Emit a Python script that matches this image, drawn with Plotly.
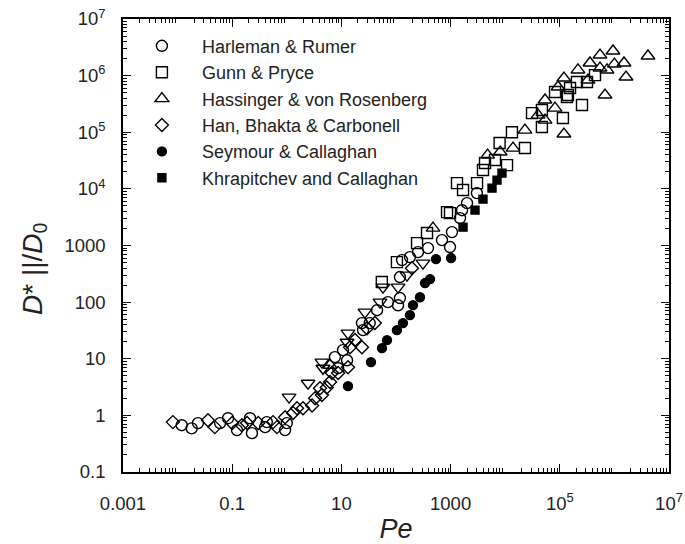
import plotly.graph_objects as go

# ---- data ----
harl_pe = [0.0119, 0.0181, 0.0236, 0.060, 0.084, 0.122, 0.212, 0.23, 0.40, 0.43, 0.93, 1.0,
           7.6, 8.7, 12.7, 10.7, 23.8, 24.9, 33, 45, 71, 109, 118, 118, 129, 180, 253, 385,
           695, 975, 1060, 1490, 1620, 2000, 3030]
harl_d = [0.67, 0.59, 0.73, 0.73, 0.89, 0.55, 0.89, 0.485, 0.62, 0.76, 0.55, 0.73,
          10.7, 6.8, 9.4, 14.2, 42.6, 32, 42.6, 72, 100, 88, 118, 277, 552, 624, 764, 900,
          1245, 940, 1725, 3050, 4200, 5600, 8430]

gunn_pe = [55, 104, 243, 370, 860, 975, 1310, 1690, 3050, 3920, 4270, 6500, 7900, 10800, 13300,
           23000, 31000, 47000, 47000, 81700, 114000, 135000, 141000, 154000, 206000, 255000,
           315000, 441000]
gunn_d = [226, 509, 1100, 1660, 3890, 3730, 12650, 9530, 12650, 21500, 28600, 32300, 64500, 26300,
          100000, 52800, 218000, 124000, 247000, 513000, 178000, 420000, 454000, 604000, 771000,
          302000, 771000, 1020000]

hass_pe = [6.2, 476, 4760, 8090, 13900, 23000, 40000, 53600, 53600, 81700, 119000, 92700, 119000,
           215000, 328000, 357000, 545000, 545000, 673000, 732000, 943000, 1.0e6, 1.5e6, 1.63e6,
           4.12e6]
hass_d = [7.7, 2030, 39500, 44700, 52500, 109000, 201000, 164000, 371000, 267000, 93000, 630000,
          906000, 1.26e6, 836000, 1.67e6, 2.31e6, 1.36e6, 454000, 1.26e6, 2.72e6, 1.6e6, 1.67e6,
          944000, 2.22e6]

han_pe = [0.0082, 0.036, 0.048, 0.10, 0.15, 0.187, 0.30, 0.56, 0.66, 0.93, 1.3, 1.54, 1.98, 2.9,
          3.3, 4.06, 4.4, 5.4, 6.2, 6.7, 8.7, 13.2, 14.4, 17.7, 23.8, 29.4, 41, 196]
han_d = [0.76, 0.82, 0.62, 0.73, 0.67, 0.73, 0.73, 0.76, 0.62, 0.93, 1.1, 1.34, 1.34, 1.5,
         2.0, 3.0, 2.3, 3.1, 3.9, 5.6, 5.6, 7.1, 16, 21.4, 16, 34.7, 42.6, 398]

sey_pe = [13.2, 34.8, 55.4, 68.4, 104, 134, 180, 205, 275, 340, 420, 540, 1020]
sey_d = [3.28, 8.7, 15.4, 21.3, 32, 42.6, 59, 88.5, 122, 217, 255, 575, 600]

kh_pe = [1690, 2800, 3920, 5730, 7080, 8730]
kh_d = [2110, 4220, 6600, 10300, 14300, 19000]

# unlabeled series drawn with downward triangles
td_pe = [1.1, 2.45, 4.4, 4.6, 12.7, 13.2, 27, 51, 57.8, 109, 159, 312]
td_d = [2.1, 3.7, 8.7, 6.8, 19.6, 28.3, 66.5, 100, 184, 184, 300, 489]

x_labelvals = [1e-3, 1e-1, 10, 1e3, 1e5, 1e7]
x_labeltext = ["0.001", "0.1", "10", "1000", "10<sup>5</sup>", "10<sup>7</sup>"]
x_decades = [1e-3, 1e-2, 1e-1, 1, 10, 100, 1e3, 1e4, 1e5, 1e6, 1e7]
y_tickvals = [0.1, 1, 10, 100, 1e3, 1e4, 1e5, 1e6, 1e7]
y_ticktext = ["0.1", "1", "10", "100", "1000", "10<sup>4</sup>", "10<sup>5</sup>",
              "10<sup>6</sup>", "10<sup>7</sup>"]

minor_x = [k * 10.0 ** d for d in range(-3, 7) for k in range(2, 10)]
minor_y = [k * 10.0 ** d for d in range(-1, 7) for k in range(2, 10)]

FONT = "Liberation Sans, Arial, sans-serif"
TXT = "#222"
LW = 1.4

fig = go.Figure()

series = [
    ("Harleman & Rumer", harl_pe, harl_d, "circle-open", 11, True),
    ("Gunn & Pryce", gunn_pe, gunn_d, "square-open", 11, True),
    ("Hassinger & von Rosenberg", hass_pe, hass_d, "triangle-up-open", 12, True),
    ("Han, Bhakta & Carbonell", han_pe, han_d, "diamond-open", 10, True),
    ("Seymour & Callaghan", sey_pe, sey_d, "circle", 9, True),
    ("Khrapitchev and Callaghan", kh_pe, kh_d, "square", 8, True),
    ("", td_pe, td_d, "triangle-down-open", 12, False),
]
for name, xs, ys, sym, sz, show in series:
    fig.add_trace(go.Scatter(
        x=xs, y=ys, mode="markers", name=name, showlegend=show,
        marker=dict(symbol=sym, size=sz, color="black",
                    line=dict(color="black", width=LW)),
    ))

fig.update_layout(
    width=685, height=544, autosize=False,
    margin=dict(l=123, r=16, t=19, b=72),
    paper_bgcolor="white", plot_bgcolor="white",
    font=dict(family=FONT, color=TXT),
    xaxis=dict(
        type="log", range=[-3, 7], automargin=False,
        showgrid=False, zeroline=False,
        showline=True, linecolor="black", linewidth=1.5, mirror="allticks",
        ticks="inside", ticklen=8, tickwidth=1.2, tickcolor="black",
        tickmode="array", tickvals=x_labelvals, ticktext=x_labeltext,
        tickfont=dict(family=FONT, size=18.5, color=TXT), ticklabelstandoff=14,
        minor=dict(ticks="inside", ticklen=4, tickwidth=1, tickcolor="black",
                   showgrid=False, tickvals=minor_x),
        title=dict(text="<i>Pe</i>", font=dict(family=FONT, size=27, color=TXT),
                   standoff=12),
    ),
    xaxis2=dict(
        type="log", range=[-3, 7], overlaying="x", anchor="y", side="bottom",
        automargin=False, showgrid=False, zeroline=False, showline=False,
        mirror="allticks", ticks="inside", ticklen=8, tickwidth=1.2,
        tickcolor="black", tickmode="array", tickvals=x_decades,
        showticklabels=False,
    ),
    yaxis=dict(
        type="log", range=[-1, 7], automargin=False,
        showgrid=False, zeroline=False,
        showline=True, linecolor="black", linewidth=1.5, mirror="allticks",
        ticks="inside", ticklen=8, tickwidth=1.2, tickcolor="black",
        tickmode="array", tickvals=y_tickvals, ticktext=y_ticktext,
        tickfont=dict(family=FONT, size=18.5, color=TXT), ticklabelstandoff=12,
        minor=dict(ticks="inside", ticklen=4, tickwidth=1, tickcolor="black",
                   showgrid=False, tickvals=minor_y),
        title=dict(text="<i>D</i>* ||/<i>D</i><sub>0</sub>&nbsp;&nbsp;&nbsp;&nbsp;&nbsp;&nbsp;",
                   font=dict(family=FONT, size=28, color=TXT), standoff=14),
    ),
    legend=dict(x=-0.002, y=0.981, xanchor="left", yanchor="top",
                bgcolor="rgba(0,0,0,0)", borderwidth=0,
                font=dict(family=FONT, size=18, color=TXT),
                itemwidth=70),
)

fig.write_html("out.html",
               config={"displayModeBar": False},
               post_script="document.body.style.margin='0';"
                           "document.body.style.overflow='hidden';")
